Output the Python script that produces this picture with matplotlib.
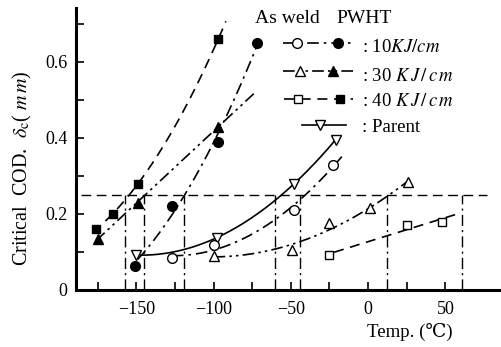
import numpy as np
import matplotlib
matplotlib.use("Agg")
import matplotlib.pyplot as plt

plt.rcParams['font.family'] = ['Liberation Serif', 'DejaVu Serif']
plt.rcParams['mathtext.fontset'] = 'stix'

# ---------------- data ----------------
# PWHT (filled markers)
t_pwht10 = [-151, -127, -97, -72]
v_pwht10 = [0.063, 0.22, 0.39, 0.65]
t_pwht30 = [-175, -149, -97]
v_pwht30 = [0.135, 0.23, 0.43]
t_pwht40 = [-176, -165, -149, -97]
v_pwht40 = [0.16, 0.20, 0.28, 0.66]
# As weld (open markers)
t_aw10 = [-127, -100, -48, -23]
v_aw10 = [0.084, 0.118, 0.21, 0.33]
t_aw30 = [-100, -49, -25, 1, 26]
v_aw30 = [0.09, 0.105, 0.175, 0.215, 0.285]
t_aw40 = [-25, 25, 48]
v_aw40 = [0.092, 0.17, 0.18]
# Parent
t_parent = [-150, -98, -48, -21]
v_parent = [0.092, 0.137, 0.28, 0.395]

# fitted-curve temperature spans
span_pwht10 = (-149, -72)
span_pwht30 = (-176, -74)
span_pwht40 = (-178, -92)
span_aw10 = (-127, -17)
span_aw30 = (-100, 27)
span_aw40 = (-22, 58)
span_parent = (-147, -19)

critical_level = 0.25
critical_span = (-186, 77)
transition_temps = [-157, -145, -119, -60, -44, 12, 61]

x_ticks = [-175, -150, -125, -100, -75, -50, -25, 0, 25, 50]
x_ticklabels = ["", "\u2212150", "", "\u2212100", "", "\u221250", "", "0", "", "50"]
y_ticks = [0, 0.1, 0.2, 0.3, 0.4, 0.5, 0.6, 0.7]
y_ticklabels = ["0", "", "0.2", "", "0.4", "", "0.6", ""]

# ---------------- styles ----------------
DASHDOT = (0, (7, 3, 1.5, 3))
DASHDOTDOT = (0, (7, 2.5, 1.5, 2.5, 1.5, 2.5))
DASHED = (0, (6, 4))
MSIZE = {'o': 7, 's': 6.3, '^': 7.5, 'v': 7.5}
LW = 1.2

fig = plt.figure(figsize=(5.01, 3.47), dpi=100)
ax = fig.add_axes([76 / 501, 57 / 347, 1 - 76 / 501, (290 - 8) / 347])
ax.set_xlim(-189, 86)
ax.set_ylim(0, 0.742)

series = [
    (t_pwht40, v_pwht40, span_pwht40, 2, DASHED, 's', 'k'),
    (t_pwht30, v_pwht30, span_pwht30, 1, DASHDOTDOT, '^', 'k'),
    (t_pwht10, v_pwht10, span_pwht10, 2, DASHDOT, 'o', 'k'),
    (t_parent, v_parent, span_parent, 2, '-', 'v', 'w'),
    (t_aw10, v_aw10, span_aw10, 2, DASHDOT, 'o', 'w'),
    (t_aw30, v_aw30, span_aw30, 2, DASHDOTDOT, '^', 'w'),
    (t_aw40, v_aw40, span_aw40, 1, DASHED, 's', 'w'),
]
for t, v, span, deg, ls, mk, fc in series:
    coef = np.polyfit(t, v, deg)
    tt = np.linspace(span[0], span[1], 200)
    ax.plot(tt, np.polyval(coef, tt), color='k', lw=LW, linestyle=ls, zorder=2)
    ax.plot(t, v, linestyle='none', marker=mk, ms=MSIZE[mk], mfc=fc, mec='k',
            mew=1.0, zorder=3)

# critical level and transition temperatures
ax.plot(critical_span, [critical_level, critical_level], color='k', lw=1.0,
        linestyle=(0, (7, 4)), zorder=1)
for tr in transition_temps:
    ax.plot([tr, tr], [0, critical_level], color='k', lw=1.0,
            linestyle=(0, (8, 3, 1.5, 3)), zorder=1)

# axes cosmetics
for s in ['top', 'right']:
    ax.spines[s].set_visible(False)
ax.spines['left'].set_linewidth(2.2)
ax.spines['bottom'].set_linewidth(2.2)
ax.set_xticks(x_ticks)
ax.set_xticklabels(x_ticklabels, fontsize=13)
ax.set_yticks(y_ticks)
ax.set_yticklabels(y_ticklabels, fontsize=13)
ax.tick_params(axis='both', direction='in', length=6, width=1.2)
ax.tick_params(axis='x', pad=8)
ax.tick_params(axis='y', pad=6)

fig.text(22 / 501, 1 - 168 / 347, r"Critical  COD.  $\delta_{\rm c}$( $m\,m$)",
         rotation=90, ha='center', va='center', fontsize=14.5)
fig.text(410 / 501, 1 - 332 / 347, "Temp. (\u2103)", ha='center', va='center',
         fontsize=13.5)

# ---------------- hand-drawn legend ----------------
lg = fig.add_axes([0, 0, 1, 1], facecolor='none')
lg.set_xlim(0, 501)
lg.set_ylim(347, 0)
lg.axis('off')
lg.text(255, 18, "As weld", ha='left', va='center', fontsize=14)
lg.text(336, 18, "PWHT", ha='left', va='center', fontsize=14)
rows = [
    (43, DASHDOT, 'o', 283, 355, [297, 338], ['w', 'k'], r": 10$KJ/cm$", 47),
    (71, DASHDOTDOT, '^', 283, 353, [300, 333], ['w', 'k'], r": 30 $K\,J\,/\,c\,m$", 76),
    (99, DASHED, 's', 284, 353, [298, 340], ['w', 'k'], r": 40 $K\,J\,/\,c\,m$", 101),
    (125, '-', 'v', 302, 346, [320], ['w'], ": Parent", 127),
]
for y, ls, mk, x0, x1, xm, fcs, label, ty in rows:
    lg.plot([x0, x1], [y, y], color='k', lw=LW, linestyle=ls)
    for xx, fc in zip(xm, fcs):
        lg.plot([xx], [y], marker=mk, ms=MSIZE[mk], mfc=fc, mec='k', mew=1.0,
                linestyle='none')
    lg.text(362, ty, label, ha='left', va='center', fontsize=13.5)

fig.savefig("out.png", dpi=100)
